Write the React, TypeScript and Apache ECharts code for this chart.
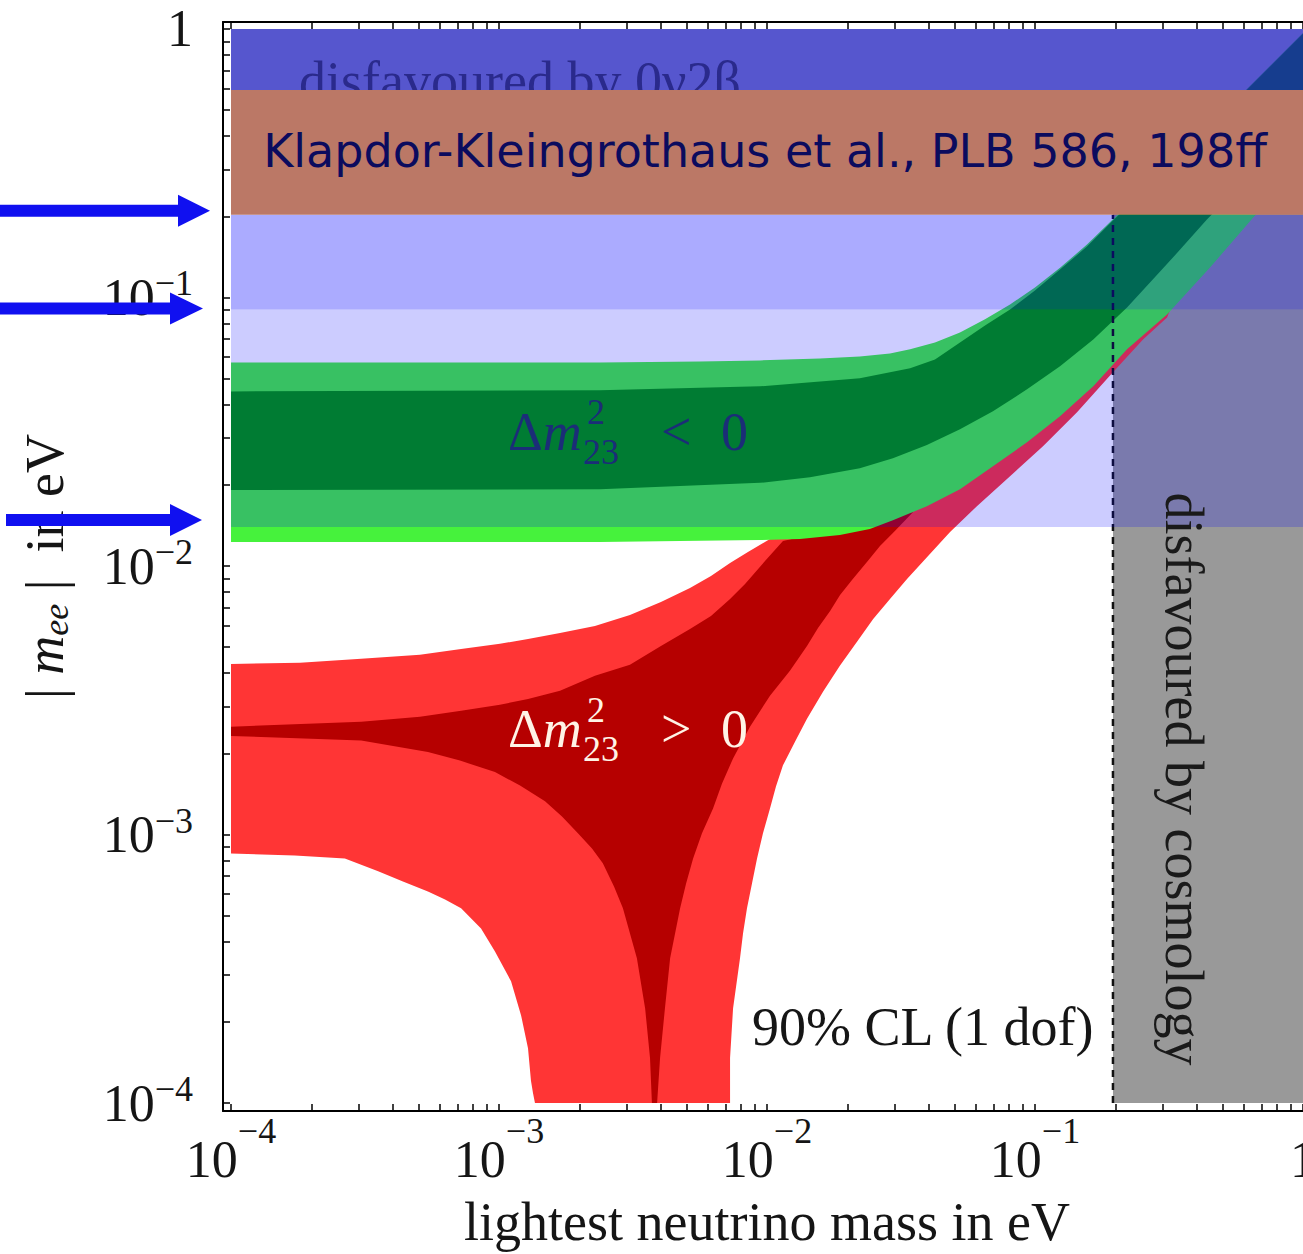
import React, { useEffect, useRef } from "react";
import * as echarts from "echarts";

type Pt = [number, number];

// ---- axes (eV, log scale) ----
const majorTicks: number[] = [1e-4, 1e-3, 1e-2, 1e-1, 1];
const minorSteps: number[] = [2, 3, 4, 5, 6, 7, 8, 9];
const allTicks: number[] = [];
for (const d of [1e-4, 1e-3, 1e-2, 1e-1]) {
  allTicks.push(d);
  for (const k of minorSteps) allTicks.push(+(k * d).toPrecision(3));
}
allTicks.push(1);

const X_MIN = Math.pow(10, -4.0299);
const X_MAX = Math.pow(10, 0.0299);
const Y_MIN = Math.pow(10, -4.0297);
const Y_MAX = Math.pow(10, 0.026);

// ---- regions: [lightest neutrino mass, |m_ee|] in eV ----
// inverted hierarchy (Δm²23 < 0), full band incl. errors
const invertedOuter: Pt[] = [
  [1e-4, 0.0573], [2.38e-3, 0.0573], [5.62e-3, 0.0578], [9.42e-3, 0.0583], [0.01577, 0.0593], [0.0222, 0.0603],
  [0.02877, 0.0619], [0.0342, 0.0641], [0.04235, 0.068], [0.0525, 0.0741], [0.0651, 0.0829], [0.0807, 0.0942],
  [0.1, 0.109], [0.124, 0.129], [0.1563, 0.1574], [0.195, 0.195], [0.348, 0.34], [0.618, 0.598], [1, 0.966],
  [1, 0.312], [0.651, 0.198], [0.4498, 0.1293], [0.311, 0.0865], [0.2205, 0.0641], [0.165, 0.0467], [0.124, 0.0361],
  [0.0934, 0.0289], [0.0697, 0.0235], [0.0525, 0.0193], [0.0395, 0.0167], [0.0295, 0.0148],
  [0.0242, 0.01373], [0.0187, 0.01304], [0.01328, 0.0126], [9.42e-3, 0.01249], [2.38e-3, 0.01228], [1e-4, 0.01228],
];
// inverted hierarchy, best-fit oscillation parameters
const invertedInner: Pt[] = [
  [1e-4, 0.0447], [2.38e-3, 0.0451], [9.42e-3, 0.0467], [0.0222, 0.05], [0.0342, 0.0545], [0.04235, 0.0588],
  [0.0525, 0.068], [0.0651, 0.0787], [0.0807, 0.0902], [0.1, 0.1062], [0.124, 0.1271], [0.1563, 0.1547],
  [0.195, 0.1933], [0.348, 0.337], [0.618, 0.594], [1, 0.96],
  [1, 0.451], [0.438, 0.195], [0.348, 0.1508], [0.293, 0.1249], [0.2205, 0.0918], [0.165, 0.0698],
  [0.124, 0.0554], [0.0934, 0.0455], [0.0697, 0.0377], [0.0525, 0.0323], [0.0395, 0.0282], [0.0295, 0.0252],
  [0.0222, 0.0231], [0.01447, 0.0214], [9.42e-3, 0.0204], [2.38e-3, 0.0193], [1e-4, 0.0192],
];
// normal hierarchy (Δm²23 > 0), full band incl. errors
const normalOuter: Pt[] = [
  [1e-4, 0.00432], [1.81e-4, 0.00436], [3.06e-4, 0.00451], [5.07e-4, 0.00467], [7.22e-4, 0.00491],
  [1.008e-3, 0.00513], [1.283e-3, 0.00535], [1.689e-3, 0.00563], [2.28e-3, 0.00598], [3.08e-3, 0.00657],
  [4.02e-3, 0.00735], [5.16e-3, 0.00828], [6.18e-3, 0.00918], [7.28e-3, 0.01026], [8.49e-3, 0.01127], [0.01026, 0.0126],
  [0.0204, 0.0163], [0.0482, 0.0272], [0.1138, 0.0496], [0.226, 0.0829], [0.348, 0.1117],
  [0.311, 0.0843], [0.253, 0.0698], [0.195, 0.0526], [0.1435, 0.0374], [0.1071, 0.0279], [0.0807, 0.0216],
  [0.0607, 0.0167], [0.0482, 0.01338], [0.0333, 0.00895], [0.02877, 0.00754], [0.0249, 0.00635], [0.02167, 0.00522],
  [0.0187, 0.00425], [0.01618, 0.0034], [0.0141, 0.0027], [0.01272, 0.002216], [0.01147, 0.00181], [0.0108, 0.001508],
  [0.01026, 0.00125], [9.66e-3, 0.00101], [9.18e-3, 8.14e-4], [8.79e-3, 6.57e-4], [8.42e-3, 5.31e-4], [8.14e-3, 4.29e-4],
  [7.93e-3, 3.46e-4], [7.47e-3, 2.25e-4], [7.28e-3, 1.47e-4], [7.28e-3, 1e-4],
  [1.362e-3, 1e-4], [1.339e-3, 1.09e-4], [1.316e-3, 1.21e-4], [1.283e-3, 1.6e-4], [1.209e-3, 2.12e-4],
  [1.109e-3, 2.84e-4], [9.66e-4, 3.67e-4], [8.57e-4, 4.47e-4], [7.22e-4, 5.31e-4], [6.29e-4, 5.73e-4],
  [5.43e-4, 6.14e-4], [4.38e-4, 6.69e-4], [3.54e-4, 7.29e-4], [2.66e-4, 8.14e-4], [1.73e-4, 8.35e-4], [1e-4, 8.5e-4],
];
// normal hierarchy, best-fit oscillation parameters
const normalInner: Pt[] = [
  [1e-4, 0.00252], [3.06e-4, 0.00263], [5.07e-4, 0.002746], [7.22e-4, 0.00289], [1.008e-3, 0.003043],
  [1.283e-3, 0.0032], [1.689e-3, 0.00343], [2.28e-3, 0.0039], [3.08e-3, 0.004285], [4.02e-3, 0.00504],
  [5.16e-3, 0.00583], [6.18e-3, 0.00652], [7.28e-3, 0.00754], [8.28e-3, 0.00857], [9.83e-3, 0.01044],
  [0.01147, 0.01239], [0.0204, 0.01408], [0.0351, 0.0159],
  [0.03, 0.01349], [0.0264, 0.01187], [0.0236, 0.01035], [0.0209, 0.00895], [0.01873, 0.0078], [0.0172, 0.0068],
  [0.0155, 0.00588], [0.0141, 0.00504], [0.01218, 0.00407], [0.01026, 0.00329], [8.64e-3, 0.00252],
  [7.47e-3, 0.00192], [6.79e-3, 0.001547], [6.29e-3, 0.00125], [5.72e-3, 0.00101], [5.3e-3, 8.14e-4],
  [4.99e-3, 6.57e-4], [4.74e-3, 5.31e-4], [4.35e-3, 3.46e-4], [4.16e-3, 2.25e-4], [3.99e-3, 1.47e-4], [3.89e-3, 1e-4],
  [3.72e-3, 1e-4], [3.66e-3, 1.47e-4], [3.51e-3, 2.25e-4], [3.27e-3, 3.46e-4], [2.9e-3, 5.31e-4],
  [2.686e-3, 6.41e-4], [2.44e-3, 7.81e-4], [2.223e-3, 8.87e-4], [1.97e-3, 1.01e-3], [1.718e-3, 1.166e-3],
  [1.485e-3, 1.33e-3], [1.198e-3, 1.521e-3], [9.66e-4, 1.71e-3], [7.15e-4, 1.885e-3], [5.43e-4, 2.03e-3],
  [3.06e-4, 2.24e-3], [1e-4, 2.33e-3],
];

const mLightRange: Pt = [1e-4, 1];
const cosmologyLimit = 0.1954; // eV, lightest mass disfavoured above
const bandTop: Pt = [0.593, 1]; // disfavoured by 0ν2β
const bandKlapdor: Pt = [0.2035, 0.593];
const bandSensHigh: Pt = [0.0902, 0.2035];
const bandSensLow: Pt = [0.01396, 0.0902];
const arrowLevels: number[] = [0.2106, 0.091, 0.01483];

const SERIF = "'Liberation Serif', 'Times New Roman', serif";
const CHART_W = 1320;

const rect = (xr: Pt, yr: Pt): Pt[] => [
  [xr[0], yr[0]], [xr[1], yr[0]], [xr[1], yr[1]], [xr[0], yr[1]],
];

const poly = (id: string, pts: Pt[], fill: string, z: number) => ({
  type: "custom",
  id,
  name: id,
  coordinateSystem: "cartesian2d",
  z,
  silent: true,
  data: [pts[0]],
  renderItem: (_p: any, api: any) => ({
    type: "polygon",
    shape: { points: pts.map((p) => api.coord(p)) },
    style: { fill },
  }),
});

const fmt = (v: number) => {
  const e = Math.round(Math.log10(v));
  return e === 0 ? "{b|1}" : `{b|10}{s|−${-e}}`;
};

const richX = {
  b: { fontFamily: SERIF, fontSize: 52, lineHeight: 92, verticalAlign: "middle", color: "#151515" },
  s: { fontFamily: SERIF, fontSize: 36, lineHeight: 32, verticalAlign: "top", color: "#151515" },
};
const richY = {
  b: { fontFamily: SERIF, fontSize: 52, lineHeight: 64, verticalAlign: "middle", color: "#151515" },
  s: { fontFamily: SERIF, fontSize: 36, lineHeight: 32, verticalAlign: "top", color: "#151515" },
};

const axisCommon = {
  type: "log",
  logBase: 10,
  axisLine: { show: true, onZero: false, lineStyle: { color: "#000", width: 2 } },
  axisTick: { show: true, inside: true, length: 7, customValues: allTicks, lineStyle: { color: "#000", width: 1.5 } },
  splitLine: { show: false },
  minorTick: { show: false },
};

export default function App() {
  const ref = useRef<HTMLDivElement>(null);
  useEffect(() => {
    if (!ref.current) return;
    const chart = echarts.init(ref.current, null, { renderer: "svg" });
    const option: any = {
      animation: false,
      backgroundColor: "#ffffff",
      grid: { left: 223, right: CHART_W - 1311, top: 22, bottom: 141, containLabel: false },
      xAxis: [
        {
          ...axisCommon,
          min: X_MIN,
          max: X_MAX,
          position: "bottom",
          axisLabel: { show: true, margin: 2, customValues: majorTicks, formatter: fmt, rich: richX },
          name: "lightest neutrino mass in eV",
          nameLocation: "middle",
          nameGap: 84,
          nameTextStyle: { fontFamily: SERIF, fontSize: 54, lineHeight: 54, color: "#151515" },
        },
        {
          ...axisCommon,
          min: X_MIN,
          max: X_MAX,
          position: "top",
          axisLabel: { show: false },
        },
      ],
      yAxis: [
        {
          ...axisCommon,
          min: Y_MIN,
          max: Y_MAX,
          position: "left",
          axisLabel: { show: true, margin: 30, customValues: majorTicks, formatter: fmt, rich: richY },
          name: "{n|| }{i|m}{s|ee}{n| |  in eV}",
          nameLocation: "middle",
          nameRotate: 90,
          nameGap: 149,
          nameTextStyle: {
            rich: {
              n: { fontFamily: SERIF, fontSize: 54, lineHeight: 58, verticalAlign: "middle", color: "#151515" },
              i: { fontFamily: SERIF, fontStyle: "italic", fontSize: 54, lineHeight: 58, verticalAlign: "middle", color: "#151515" },
              s: { fontFamily: SERIF, fontStyle: "italic", fontSize: 36, lineHeight: 36, verticalAlign: "bottom", color: "#151515" },
            },
          },
        },
        {
          ...axisCommon,
          min: Y_MIN,
          max: Y_MAX,
          position: "right",
          axisLabel: { show: false },
        },
      ],
      series: [
        poly("cosmology", rect([cosmologyLimit, mLightRange[1]], [1e-4, bandTop[0]]), "#999999", 1),
        poly("normalOuter", normalOuter, "#ff3535", 2),
        poly("normalInner", normalInner, "#b60000", 3),
        poly("invertedOuter", invertedOuter, "#46f23c", 4),
        poly("invertedInner", invertedInner, "#009c00", 5),
        {
          type: "custom",
          id: "cosmoLine",
          coordinateSystem: "cartesian2d",
          z: 6,
          silent: true,
          data: [[cosmologyLimit, 1e-4]],
          renderItem: (_p: any, api: any) => {
            const a = api.coord([cosmologyLimit, 1e-4]);
            const b = api.coord([cosmologyLimit, bandKlapdor[0]]);
            return {
              type: "line",
              shape: { x1: a[0], y1: a[1], x2: b[0], y2: b[1] },
              style: { stroke: "#111", lineWidth: 2.5, lineDash: [7, 6] },
            };
          },
        },
        poly("sensLow", rect(mLightRange, bandSensLow), "rgba(0,0,255,0.2)", 7),
        poly("sensHigh", rect(mLightRange, bandSensHigh), "rgba(0,0,255,0.33)", 8),
        poly("top0nu2beta", rect(mLightRange, bandTop), "rgba(30,30,190,0.75)", 9),
        poly("klapdor", rect(mLightRange, bandKlapdor), "#bb7866", 11),
      ],
    };
    chart.setOption(option);

    const arrowSpec = [
      { x0: 0, xb: 178, xt: 210 },
      { x0: 0, xb: 170, xt: 203 },
      { x0: 6, xb: 170, xt: 202 },
    ];
    const arrows = arrowLevels.map((v, i) => {
      const yc = chart.convertToPixel({ yAxisIndex: 0 }, v) as number;
      const s = arrowSpec[i];
      return {
        type: "polygon",
        id: "arrow" + i,
        z: 60,
        shape: {
          points: [
            [s.x0, yc - 6], [s.xb, yc - 6], [s.xb, yc - 16], [s.xt, yc],
            [s.xb, yc + 16], [s.xb, yc + 6], [s.x0, yc + 6],
          ],
        },
        style: { fill: "#1010f0" },
      };
    });

    const txt = (id: string, text: string, x: number, y: number, extra: any = {}, z = 40) => ({
      type: "text",
      id,
      x,
      y,
      z,
      silent: true,
      ...(extra.rotation !== undefined ? { rotation: extra.rotation } : {}),
      style: {
        text,
        fontFamily: SERIF,
        fontSize: 54,
        fill: "#151515",
        align: "left",
        verticalAlign: "middle",
        ...(extra.style || {}),
      },
    });

    const richDm = { n: { fontFamily: SERIF, fontSize: 54 }, i: { fontFamily: SERIF, fontSize: 54, fontStyle: "italic" } };
    const small = (fill: string) => ({ style: { fontSize: 36, lineHeight: 28, fill } });

    const graphic = [
      txt("t0nu", "disfavoured by 0ν2β", 520, 81, { style: { align: "center", fill: "#2a2a8c" } }, 10),
      txt("tKlap", "Klapdor-Kleingrothaus et al., PLB 586, 198ff", 765, 151, {
        style: { align: "center", fontFamily: "'DejaVu Sans', Verdana, sans-serif", fontSize: 46, fill: "#0b0b5e" },
      }),
      // Δm²23 < 0
      txt("ltD", "{n|Δ}{i|m}", 508, 432, { style: { fill: "#1b2d78", rich: richDm } }),
      txt("ltS", "2", 587, 412, small("#1b2d78")),
      txt("ltB", "23", 583, 452, small("#1b2d78")),
      txt("ltR", "<", 661, 432, { style: { fill: "#1b2d78" } }),
      txt("ltZ", "0", 721, 432, { style: { fill: "#1b2d78" } }),
      // Δm²23 > 0
      txt("gtD", "{n|Δ}{i|m}", 508, 729, { style: { fill: "#fff3e6", rich: richDm } }),
      txt("gtS", "2", 587, 710, small("#fff3e6")),
      txt("gtB", "23", 583, 749, small("#fff3e6")),
      txt("gtR", ">", 661, 729, { style: { fill: "#fff3e6" } }),
      txt("gtZ", "0", 721, 729, { style: { fill: "#fff3e6" } }),
      txt("tCL", "90% CL (1 dof)", 752, 1027),
      txt("tCosmo", "disfavoured by cosmology", 1184, 779, { rotation: -Math.PI / 2, style: { align: "center", fill: "#1a1a1a" } }),
      ...arrows,
    ];
    chart.setOption({ graphic: graphic });

    return () => chart.dispose();
  }, []);

  return (
    <div style={{ position: "absolute", left: 0, top: 0, width: 1303, height: 1254, overflow: "hidden", background: "#fff" }}>
      <div ref={ref} style={{ width: CHART_W, height: 1254 }} />
    </div>
  );
}
